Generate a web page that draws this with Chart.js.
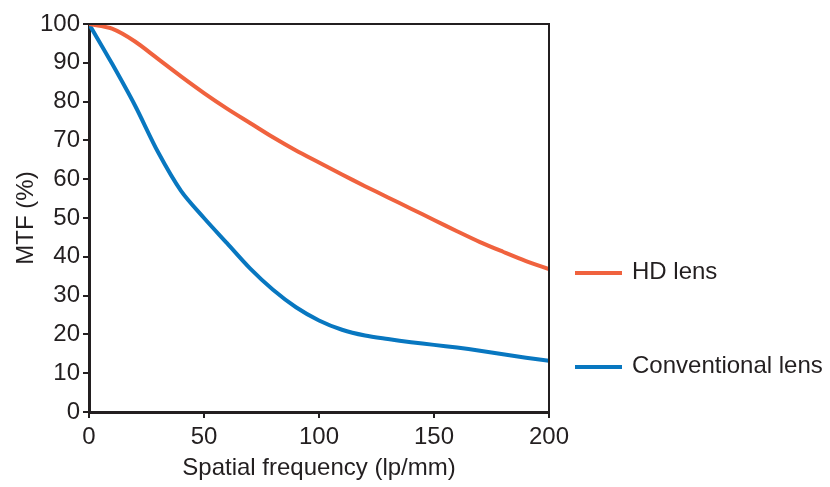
<!DOCTYPE html>
<html>
<head>
<meta charset="utf-8">
<script src="https://cdn.jsdelivr.net/npm/chart.js@4.4.1/dist/chart.umd.min.js"></script>
<style>
  html, body { margin: 0; padding: 0; background: #fff; }
  #wrap { width: 830px; height: 487px; position: relative; }
</style>
</head>
<body>
<div id="wrap"><canvas id="mtf"></canvas></div>
<script>
// spatial frequency (lp/mm)
const freq = [0, 10, 20, 30, 40, 50, 60, 70, 80, 90, 100, 110, 120, 130, 140, 150, 160, 170, 180, 190, 200];
// MTF (%)
const hdLens = [100, 98.8, 95.5, 91, 86.5, 82.2, 78.2, 74.5, 70.8, 67.4, 64.3, 61.2, 58.2, 55.3, 52.4, 49.5, 46.6, 43.8, 41.3, 38.9, 36.8];
const convLens = [100, 89.8, 79, 67, 57, 50, 43.5, 37, 31.5, 27, 23.6, 21.2, 19.7, 18.8, 18, 17.3, 16.6, 15.8, 14.9, 14, 13.2];
const xTicks = [0, 50, 100, 150, 200];
const yTicks = [0, 10, 20, 30, 40, 50, 60, 70, 80, 90, 100];

const INK = "#231f20";
const FONT = "'Liberation Sans', Arial, sans-serif";

const toPts = (ys) => freq.map((x, i) => ({ x, y: ys[i] }));

// box around plot + legend at right side
const boxLegend = {
  id: "boxLegend",
  afterDatasetsDraw(chart) {
    const { ctx, chartArea: a } = chart;
    ctx.save();
    ctx.strokeStyle = INK;
    ctx.lineWidth = 2;
    ctx.beginPath();
    ctx.moveTo(a.left, a.top);
    ctx.lineTo(a.right, a.top);
    ctx.lineTo(a.right, a.bottom);
    ctx.stroke();

    const rows = [273, 367];
    ctx.font = "24px " + FONT;
    ctx.textBaseline = "middle";
    chart.data.datasets.forEach((ds, i) => {
      ctx.strokeStyle = ds.borderColor;
      ctx.lineWidth = 4;
      ctx.beginPath();
      ctx.moveTo(575, rows[i]);
      ctx.lineTo(622, rows[i]);
      ctx.stroke();
      ctx.fillStyle = INK;
      ctx.fillText(ds.label, 632, rows[i] - 1);
    });
    ctx.restore();
  },
};

new Chart(document.getElementById("mtf"), {
  type: "line",
  data: {
    datasets: [
      {
        label: "HD lens",
        data: toPts(hdLens),
        borderColor: "#f0623e",
        borderWidth: 4,
        pointRadius: 0,
        tension: 0.3,
      },
      {
        label: "Conventional lens",
        data: toPts(convLens),
        borderColor: "#0877c0",
        borderWidth: 4,
        pointRadius: 0,
        tension: 0.3,
      },
    ],
  },
  options: {
    responsive: true,
    maintainAspectRatio: false,
    animation: false,
    layout: { padding: { top: 24, right: 281, bottom: 0, left: 0 } },
    plugins: { legend: { display: false }, tooltip: { enabled: false } },
    scales: {
      x: {
        type: "linear",
        min: 0,
        max: 200,
        afterBuildTicks: (s) => { s.ticks = xTicks.map((v) => ({ value: v })); },
        afterFit: (s) => { s.height = 75; },
        border: { display: true, color: INK, width: 3 },
        grid: { drawOnChartArea: false, drawTicks: true, tickLength: 6, color: INK, lineWidth: 2 },
        ticks: { color: INK, font: { family: FONT, size: 24 }, padding: 5, maxRotation: 0 },
        title: { display: true, text: "Spatial frequency (lp/mm)", color: INK, font: { family: FONT, size: 24 }, padding: { top: 0, bottom: 4 } },
      },
      y: {
        min: 0,
        max: 100,
        afterBuildTicks: (s) => { s.ticks = yTicks.map((v) => ({ value: v })); },
        afterFit: (s) => { s.width = 89; },
        border: { display: true, color: INK, width: 3 },
        grid: { drawOnChartArea: false, drawTicks: true, tickLength: 6, color: INK, lineWidth: 2 },
        ticks: { color: INK, font: { family: FONT, size: 24 }, padding: 3 },
        title: { display: true, text: "MTF (%)", color: INK, font: { family: FONT, size: 24 }, padding: { top: 12, bottom: 0 } },
      },
    },
  },
  plugins: [boxLegend],
});
</script>
</body>
</html>
